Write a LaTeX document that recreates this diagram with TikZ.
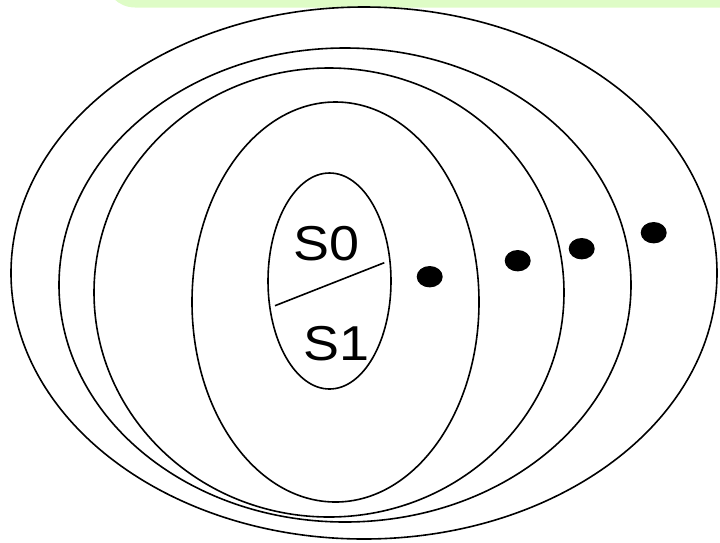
\documentclass[tikz,border=0pt]{standalone}
\usepackage{fontspec}
\setmainfont{Liberation Sans}
\usetikzlibrary{shapes.geometric}
\definecolor{banner}{RGB}{222,252,198}
\begin{document}
\begin{tikzpicture}[x=1pt,y=-1pt,
  ring/.style={draw=black,line width=1.6pt,ellipse,inner sep=0pt,fill=none},
  dot/.style={fill=black,ellipse,inner sep=0pt,minimum width=26pt,minimum height=21.4pt},
  lbl/.style={font=\fontsize{49}{49}\selectfont,inner sep=0pt,xscale=1.1}]
\useasboundingbox (0,0) rectangle (720,542);
\clip (0,0) rectangle (720,542);
\fill[banner,rounded corners=30pt] (105,-60) rectangle (780,7.5);
\node[ring,minimum width=706pt,minimum height=532pt] (e1) at (364,273) {};
\node[ring,minimum width=572pt,minimum height=474pt] (e2) at (345,285) {};
\node[ring,minimum width=470pt,minimum height=449pt] (e3) at (329,292.5) {};
\node[ring,minimum width=287pt,minimum height=400pt] (e4) at (335.5,302) {};
\node[ring,minimum width=123pt,minimum height=216pt] (e5) at (329.5,281) {};
\node[lbl] (s0) at (326.7,243.3) {S0};
\node[lbl] (s1) at (336.7,344) {S1};
\coordinate (la) at (275,305.7);
\coordinate (lb) at (384.3,262.7);
\draw[line width=1.6pt] (la) -- (lb);
\node[dot] (d1) at (429.7,276.7) {};
\node[dot] (d2) at (517.7,260.7) {};
\node[dot] (d3) at (581.7,248.7) {};
\node[dot] (d4) at (653.7,232.7) {};
\end{tikzpicture}
\end{document}
